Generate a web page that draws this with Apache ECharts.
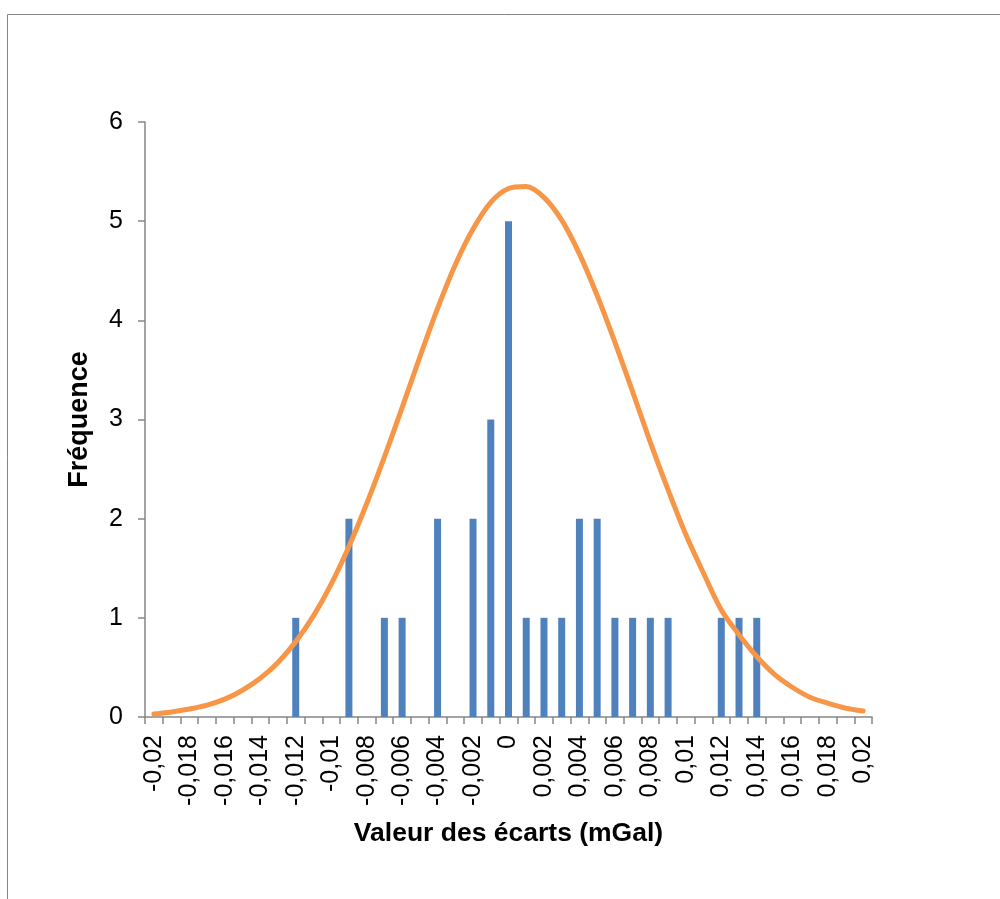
<!DOCTYPE html>
<html>
<head>
<meta charset="utf-8">
<title>Fréquence des écarts</title>
<script src="https://cdn.jsdelivr.net/npm/echarts@6/dist/echarts.min.js"></script>
<style>
  html, body { margin: 0; padding: 0; background: #fff; }
  #main { width: 1000px; height: 899px; }
</style>
</head>
<body>
<div id="main"></div>
<script>
// classes des écarts (mGal), pas de 0,001
const categories = [
  '-0,02', '-0,019', '-0,018', '-0,017', '-0,016', '-0,015', '-0,014', '-0,013', '-0,012', '-0,011',
  '-0,01', '-0,009', '-0,008', '-0,007', '-0,006', '-0,005', '-0,004', '-0,003', '-0,002', '-0,001',
  '0', '0,001', '0,002', '0,003', '0,004', '0,005', '0,006', '0,007', '0,008', '0,009',
  '0,01', '0,011', '0,012', '0,013', '0,014', '0,015', '0,016', '0,017', '0,018', '0,019', '0,02'
]
// fréquences observées
const frequences = [
  0, 0, 0, 0, 0, 0, 0, 0, 1, 0,
  0, 2, 0, 1, 1, 0, 2, 0, 2, 3,
  5, 1, 1, 1, 2, 2, 1, 1, 1, 1,
  0, 0, 1, 1, 1, 0, 0, 0, 0, 0, 0
]
// courbe normale
const courbe = [
  0.03, 0.05, 0.08, 0.12, 0.18, 0.27, 0.39, 0.55, 0.76, 1.02,
  1.34, 1.72, 2.15, 2.62, 3.12, 3.63, 4.12, 4.56, 4.92, 5.19,
  5.33, 5.35, 5.24, 5.01, 4.67, 4.25, 3.78, 3.28, 2.77, 2.29,
  1.84, 1.45, 1.08, 0.83, 0.61, 0.43, 0.30, 0.20, 0.14, 0.09, 0.06
]
const yTicks = [0, 6, 1] // min, max, pas

const font = '"Liberation Sans", Arial, sans-serif'
const gris = '#868686'

let chart = echarts.init(document.getElementById('main'))
chart.setOption({
  animation: false,
  textStyle: { fontFamily: font },
  graphic: [{
    type: 'rect',
    left: 5,
    top: 12,
    shape: { width: 1100, height: 1000 },
    style: { fill: 'none', stroke: gris, lineWidth: 1 }
  }],
  grid: { left: 145, right: 128, top: 122, bottom: 182 },
  xAxis: {
    type: 'category',
    data: categories,
    boundaryGap: true,
    name: 'Valeur des écarts (mGal)',
    nameLocation: 'middle',
    nameGap: 103,
    nameTextStyle: { fontSize: 26.5, fontWeight: 'bold', color: '#000', fontFamily: font },
    axisLine: { lineStyle: { color: gris, width: 1.5 } },
    axisTick: { show: true, interval: 0, length: 7, lineStyle: { color: gris, width: 1.5 } },
    axisLabel: { interval: 1, rotate: 90, margin: 18, fontSize: 25, color: '#000', fontFamily: font },
    splitLine: { show: false }
  },
  yAxis: {
    type: 'value',
    min: yTicks[0],
    max: yTicks[1],
    interval: yTicks[2],
    name: 'Fréquence',
    nameLocation: 'middle',
    nameGap: 52,
    nameRotate: 90,
    nameTextStyle: { fontSize: 27, fontWeight: 'bold', color: '#000', fontFamily: font },
    axisLine: { show: true, lineStyle: { color: gris, width: 1.5 } },
    axisTick: { show: true, length: 7, lineStyle: { color: gris, width: 1.5 } },
    axisLabel: { margin: 22, fontSize: 25, color: '#000', fontFamily: font },
    splitLine: { show: false }
  },
  series: [
    {
      name: 'Fréquence',
      type: 'bar',
      data: frequences,
      barWidth: 7,
      itemStyle: { color: '#4F81BD' }
    },
    {
      name: 'Loi normale',
      type: 'line',
      data: courbe,
      smooth: 0.3,
      showSymbol: false,
      lineStyle: { color: '#F79646', width: 5, cap: 'round' },
      z: 3
    }
  ]
})
</script>
</body>
</html>
